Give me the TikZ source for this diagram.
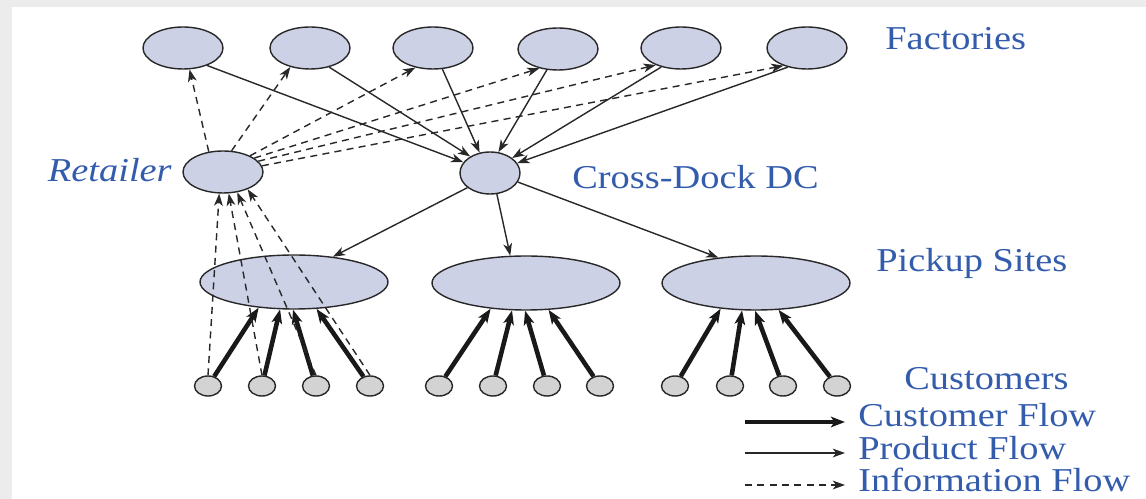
\documentclass[tikz,border=0pt]{standalone}
\usepackage{fontspec}
\setmainfont[FakeStretch=1.15]{Liberation Serif}
\usetikzlibrary{arrows.meta,shapes.geometric}
\definecolor{txtblue}{RGB}{52,92,172}
\definecolor{nodefill}{RGB}{205,209,230}
\definecolor{custfill}{RGB}{211,211,211}
\definecolor{edgegray}{RGB}{40,40,40}
\definecolor{bggray}{RGB}{236,236,236}
\tikzset{
  bignode/.style={ellipse,draw=edgegray,line width=0.8pt,fill=nodefill,inner sep=0pt,minimum width=1.6cm,minimum height=0.84cm},
  dcnode/.style={bignode,minimum width=1.2cm},
  picknode/.style={bignode,minimum width=3.76cm,minimum height=1.08cm},
  custnode/.style={ellipse,draw=edgegray,line width=0.8pt,fill=custfill,inner sep=0pt,minimum width=0.54cm,minimum height=0.4cm},
  lbl/.style={text=txtblue,font=\fontsize{19}{22}\selectfont,inner sep=0pt,anchor=base west},
  prodflow/.style={line width=0.8pt,draw=edgegray,-{Stealth[length=7pt,width=5pt,inset=2pt]}},
  custflow/.style={line width=2.6pt,draw=black!90,-{Stealth[length=8pt,width=6pt,inset=2pt]}},
  infoflow/.style={line width=0.8pt,draw=edgegray,dash pattern=on 4pt off 3pt,-{Stealth[length=7pt,width=5pt,inset=2pt]}}
}
\begin{document}
\begin{tikzpicture}[x=0.02cm,y=-0.02cm]
\useasboundingbox (0,0) rectangle (1146,499);
\fill[bggray] (0,0) rectangle (1146,499);
\fill[white] (12,7) rectangle (1146,499);
% factories
\node[bignode] (F1) at (183,48) {};
\node[bignode] (F2) at (310,48) {};
\node[bignode] (F3) at (433,48) {};
\node[bignode] (F4) at (558,49) {};
\node[bignode] (F5) at (681,48) {};
\node[bignode] (F6) at (807,48) {};
% retailer and DC
\node[bignode] (R) at (223,172) {};
\node[dcnode] (DC) at (490,173) {};
% pickup sites
\node[picknode] (P1) at (294,282) {};
\node[picknode] (P2) at (526,283) {};
\node[picknode] (P3) at (756,283) {};
% customers
\foreach \i/\x in {1/208,2/262,3/316,4/370}{\node[custnode] (C1\i) at (\x,386) {};}
\foreach \i/\x in {1/439,2/493,3/547,4/600}{\node[custnode] (C2\i) at (\x,386) {};}
\foreach \i/\x in {1/675,2/730,3/783,4/837}{\node[custnode] (C3\i) at (\x,386) {};}
% labels
\node[lbl] (tFac) at (885,50) {Factories};
\node[lbl,font=\fontsize{19}{22}\selectfont\itshape,anchor=base east] (tRet) at (172,182) {Retailer};
\node[lbl] (tDC) at (572,189) {Cross-Dock DC};
\node[lbl] (tPick) at (876,272) {Pickup Sites};
\node[lbl] (tCust) at (904,390) {Customers};
\node[lbl] (tCF) at (858,427) {Customer Flow};
\node[lbl] (tPF) at (858,460) {Product Flow};
\node[lbl] (tIF) at (858,492) {Information Flow};
% product flow factories -> DC
\draw[prodflow] (F1.-36) -- (DC.158);
\draw[prodflow] (F2.-45) -- (DC.140);
\draw[prodflow] (F3.-66) -- (DC.117);
\draw[prodflow] (F4.-118) -- (DC.68);
\draw[prodflow] (F5.-136) -- (DC.34);
\draw[prodflow] (F6.-135) -- (DC.20);
% DC -> pickup
\draw[prodflow] (DC.-147) -- (P1.33);
\draw[prodflow] (DC.-72) -- (P2.120);
\draw[prodflow] (DC.-18) -- (P3.146);
% info flow retailer -> factories
\draw[infoflow] (R.125) -- (F1.-73);
\draw[infoflow] (R.68) -- (F2.-136);
\draw[infoflow] (R.31) -- (F3.-132);
\draw[infoflow] (R.24) -- (F4.-134);
\draw[infoflow] (R.17) -- (F5.-146);
\draw[infoflow] (R.9) -- (F6.-143);
% customer flow
\foreach \g in {1,2,3}{
  \draw[custflow] (C\g1) -- (P\g.-144);
  \draw[custflow] (C\g2) -- (P\g.-117);
  \draw[custflow] (C\g3) -- (P\g.-92);
  \draw[custflow] (C\g4) -- (P\g.-50);
}
% info flow customers -> retailer
\draw[infoflow] (C11.north) -- (R.-100);
\draw[infoflow] (C12.north) -- (R.-75);
\draw[infoflow] (C13.north) -- (R.-55);
\draw[infoflow] (C14.north) -- (R.-35);
% legend
\coordinate (L1a) at (745,422); \coordinate (L1b) at (845,422);
\coordinate (L2a) at (745,453); \coordinate (L2b) at (845,453);
\coordinate (L3a) at (745,485); \coordinate (L3b) at (845,485);
\draw[custflow] (L1a) -- (L1b);
\draw[prodflow] (L2a) -- (L2b);
\draw[infoflow] (L3a) -- (L3b);
\end{tikzpicture}
\end{document}
